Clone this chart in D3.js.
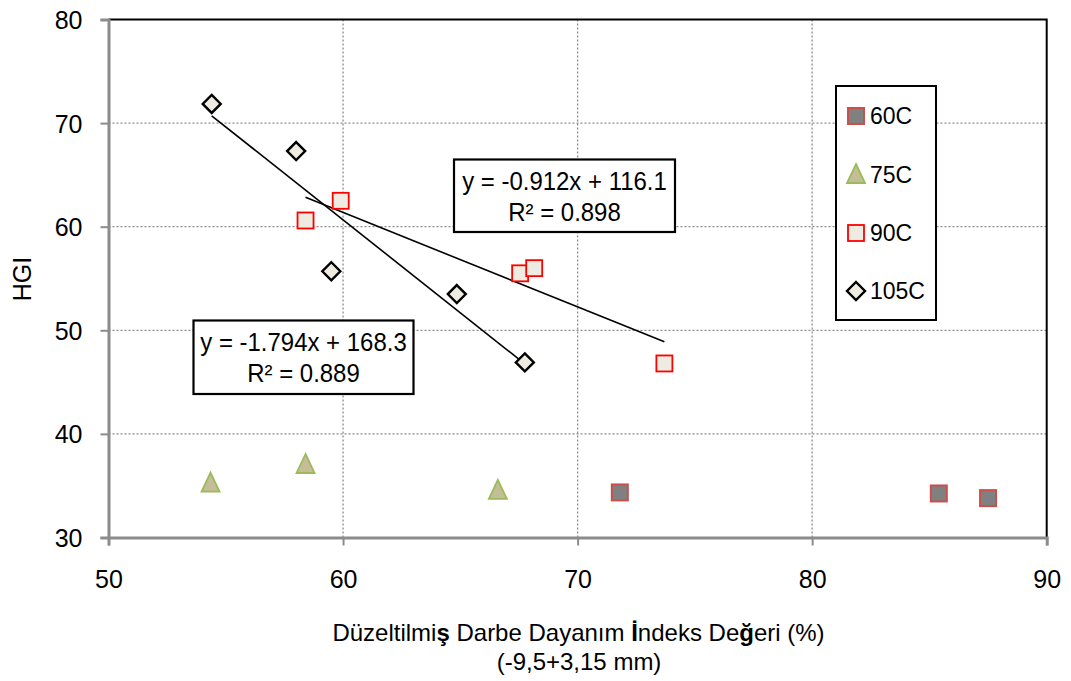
<!DOCTYPE html>
<html>
<head>
<meta charset="utf-8">
<script src="https://cdn.jsdelivr.net/npm/d3@7/dist/d3.min.js"></script>
<style>
  html, body { margin: 0; padding: 0; background: #fff; }
  svg { display: block; }
  text { font-family: "Liberation Sans", Arial, sans-serif; fill: #000; }
</style>
</head>
<body>
<svg id="chart" width="1071" height="681"></svg>
<script>
// Series data: Düzeltilmiş Darbe Dayanım İndeks Değeri (%) vs HGI
const s60x  = [71.8, 85.4, 87.5];
const s60y  = [34.35, 34.25, 33.8];
const s75x  = [54.35, 58.4, 66.6];
const s75y  = [35.2, 37.0, 34.5];
const s90x  = [58.4, 59.9, 67.55, 68.15, 73.7];
const s90y  = [60.6, 62.5, 55.5, 56.0, 46.8];
const s105x = [54.4, 58.0, 59.5, 64.85, 67.75];
const s105y = [71.85, 67.3, 55.7, 53.5, 46.9];

const xTicks = [50, 60, 70, 80, 90];
const yTicks = [30, 40, 50, 60, 70, 80];
const legendLabels = ["60C", "75C", "90C", "105C"];

// Linear trendlines (slope, intercept) and their labels
const fit90  = { slope: -0.912, intercept: 116.1, eq: "y = -0.912x + 116.1", r2: "R² = 0.898" };
const fit105 = { slope: -1.794, intercept: 168.3, eq: "y = -1.794x + 168.3", r2: "R² = 0.889" };

// x title split into runs; the Turkish letters render in a heavier weight
const xTitle1 = [["Düzeltilmi", false], ["ş", true], [" Darbe Dayanım ", false], ["İ", true],
                 ["ndeks De", false], ["ğ", true], ["eri (%)", false]];
const xTitle2 = "(-9,5+3,15 mm)";
const yTitle = "HGI";

const svg = d3.select("#chart");
const L = 108.5, R = 1046.7, T = 19.5, B = 537.5;

const x = d3.scaleLinear().domain([50, 90]).range([L, R]);
const y = d3.scaleLinear().domain([30, 80]).range([B, T]);

// gridlines
const grid = svg.append("g");
grid.selectAll("line.v").data(xTicks.slice(1, -1)).join("line")
  .attr("x1", d => x(d)).attr("x2", d => x(d)).attr("y1", T).attr("y2", B)
  .attr("stroke", "#8c8c8c").attr("stroke-width", 1.3).attr("stroke-dasharray", "2,2");
grid.selectAll("line.h").data(yTicks.slice(1, -1)).join("line")
  .attr("x1", L).attr("x2", R).attr("y1", d => y(d)).attr("y2", d => y(d))
  .attr("stroke", "#8c8c8c").attr("stroke-width", 1.3).attr("stroke-dasharray", "2,2");

// top and right frame
svg.append("path")
  .attr("d", `M${L},${T}H${R}V${B}`)
  .attr("fill", "none").attr("stroke", "#000").attr("stroke-width", 2);

// axes
const xAxis = svg.append("g").attr("transform", `translate(0,${B})`)
  .call(d3.axisBottom(x).tickValues(xTicks).tickSize(8).tickPadding(42).tickFormat(d3.format("d")));
const yAxis = svg.append("g").attr("transform", `translate(${L},0)`)
  .call(d3.axisLeft(y).tickValues(yTicks).tickSize(8).tickPadding(18).tickFormat(d3.format("d")));
[xAxis, yAxis].forEach(a => {
  a.select(".domain").attr("stroke", "#8c8c8c").attr("stroke-width", 3);
  a.selectAll(".tick line").attr("stroke", "#8c8c8c").attr("stroke-width", 2);
  a.selectAll(".tick text").attr("font-size", 25).attr("fill", "#000")
    .style("font-family", "\"Liberation Sans\", Arial, sans-serif");
});
xAxis.selectAll(".tick text").attr("dy", "0");
yAxis.selectAll(".tick text").attr("dy", "0.36em");

// trendlines over each series' x range
function trend(fit, xs) {
  const x0 = d3.min(xs), x1 = d3.max(xs);
  svg.append("line")
    .attr("x1", x(x0)).attr("y1", y(fit.slope * x0 + fit.intercept))
    .attr("x2", x(x1)).attr("y2", y(fit.slope * x1 + fit.intercept))
    .attr("stroke", "#000").attr("stroke-width", 1.6);
}
trend(fit105, s105x);
trend(fit90, s90x);

// marker shapes
function drawSquare(g, cx, cy, fill, stroke, sw) {
  g.append("rect").attr("x", cx - 8).attr("y", cy - 8).attr("width", 16).attr("height", 16)
    .attr("fill", fill).attr("stroke", stroke).attr("stroke-width", sw);
}
function drawTriangle(g, cx, cy) {
  g.append("path").attr("d", `M${cx},${cy - 11}L${cx + 9},${cy + 8}L${cx - 9},${cy + 8}Z`)
    .attr("fill", "#c4bd97").attr("stroke", "#9bbb59").attr("stroke-width", 1.8);
}
function drawDiamond(g, cx, cy) {
  g.append("path").attr("d", `M${cx},${cy - 9}L${cx + 9},${cy}L${cx},${cy + 9}L${cx - 9},${cy}Z`)
    .attr("fill", "#eeece1").attr("stroke", "#000").attr("stroke-width", 2.4);
}

const pts = svg.append("g");
s60x.forEach((v, i) => drawSquare(pts, x(v), y(s60y[i]), "#808080", "#c9504d", 2));
s75x.forEach((v, i) => drawTriangle(pts, x(v), y(s75y[i])));
s90x.forEach((v, i) => drawSquare(pts, x(v), y(s90y[i]), "#eeece1", "#ff0000", 1.8));
s105x.forEach((v, i) => drawDiamond(pts, x(v), y(s105y[i])));

// equation labels (slightly condensed, taller glyphs)
function eqBox(x0, y0, w, h, fit) {
  const g = svg.append("g");
  g.append("rect").attr("x", x0).attr("y", y0).attr("width", w).attr("height", h)
    .attr("fill", "#fff").attr("stroke", "#000").attr("stroke-width", 2.2);
  [[fit.eq, 30], [fit.r2, 61]].forEach(([s, dy]) => {
    g.append("text").attr("transform", `translate(${x0 + w / 2},${y0 + dy}) scale(0.94,1)`)
      .attr("text-anchor", "middle").attr("font-size", 25.5).text(s);
  });
}
eqBox(454, 159.5, 221, 72.5, fit90);
eqBox(193.5, 320.5, 220, 73.5, fit105);

// legend
const leg = svg.append("g");
leg.append("rect").attr("x", 836).attr("y", 86).attr("width", 100).attr("height", 234)
  .attr("fill", "#fff").attr("stroke", "#000").attr("stroke-width", 2);
const legY = [116, 175, 233, 291];
drawSquare(leg, 856, legY[0], "#808080", "#c9504d", 2);
drawTriangle(leg, 856, legY[1]);
drawSquare(leg, 856, legY[2], "#eeece1", "#ff0000", 1.8);
drawDiamond(leg, 856, legY[3]);
leg.selectAll("text").data(legendLabels).join("text")
  .attr("x", 870).attr("y", (d, i) => legY[i] + 8).attr("font-size", 23).text(d => d);

// axis titles
const t1 = svg.append("text").attr("x", 578.5).attr("y", 641).attr("text-anchor", "middle")
  .attr("font-size", 24);
t1.selectAll("tspan").data(xTitle1).join("tspan")
  .attr("font-weight", d => d[1] ? "bold" : "normal").text(d => d[0]);
svg.append("text").attr("x", 579).attr("y", 670).attr("text-anchor", "middle")
  .attr("font-size", 24).text(xTitle2);
svg.append("text").attr("transform", "translate(31,279) rotate(-90)")
  .attr("text-anchor", "middle").attr("font-size", 25).text(yTitle);
</script>
</body>
</html>
